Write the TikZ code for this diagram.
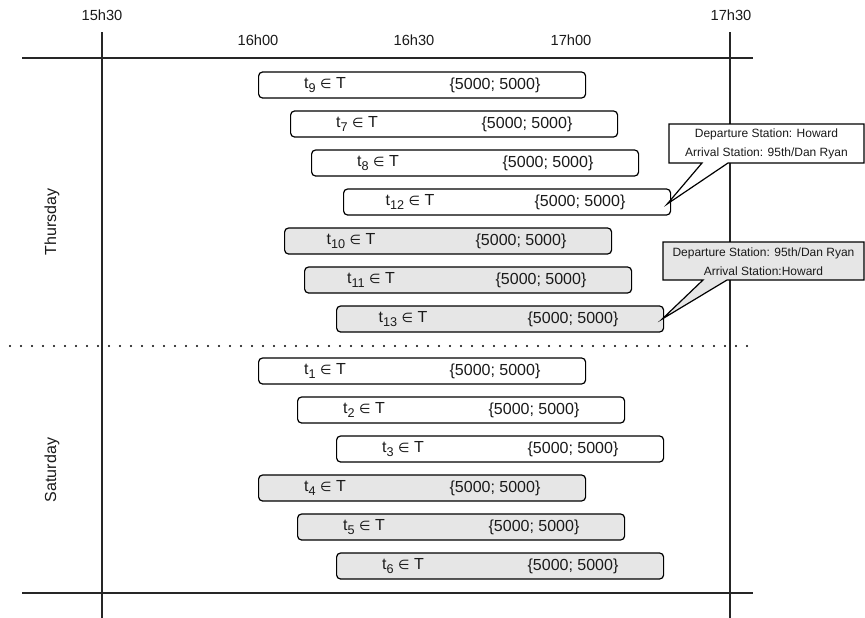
\documentclass[tikz,border=0pt]{standalone}
\usepackage{fontspec}
\setmainfont{Liberation Sans}
\newfontfamily\djv[Scale=0.82]{DejaVu Sans}
\usetikzlibrary{calc}
\definecolor{boxgray}{HTML}{E6E6E6}
\definecolor{txt}{HTML}{1A1A1A}
\newcommand\elemof{{\djv ∈}}
\newcommand\tsub[1]{t\raisebox{-0.55ex}{\fontsize{9.5}{10}\selectfont #1}}
\newcommand\tripbox[5]{%
  \node[tripbox, fill=#5, anchor=west] (#1) at (#2,#3) {};
  \node[triptext] (#1l) at ($(#1.west)+(67,0)$) {\tsub{#4} \elemof{} T};
  \node[triptext] (#1v) at ($(#1.west)+(237,0)$) {\{5000; 5000\}};
}
\begin{document}
\begin{tikzpicture}[x=0.75pt,y=-0.75pt,
  tripbox/.style={draw=black, rounded corners=3pt, line width=0.9pt, minimum width=245.25pt, minimum height=19.5pt, inner sep=0pt},
  triptext/.style={font=\fontsize{12}{14}\selectfont, text=txt, inner sep=0pt},
  timelabel/.style={font=\fontsize{11}{13}\selectfont, text=txt, inner sep=0pt},
  daylabel/.style={font=\fontsize{12}{14}\selectfont, text=txt, inner sep=0pt, rotate=90},
  axisline/.style={line width=0.9pt, draw=black!85},
  callout/.style={draw=black, line width=0.9pt, line join=miter},
  callouttext/.style={font=\fontsize{9}{14.5}\selectfont, text=txt, align=center, inner sep=0pt}]
\useasboundingbox (0,0) rectangle (865,618);

% axes
\draw[axisline] (102,32) -- (102,618);
\draw[axisline] (730,32) -- (730,618);
\draw[axisline] (22,58) -- (753,58);
\draw[axisline] (22,593) -- (753,593);
\draw[line width=1.6pt, dash pattern=on 0pt off 8.25pt, line cap=round] (10,346) -- (755,346);

% time labels
\node[timelabel] (h1530) at (102,15) {15h30};
\node[timelabel] (h1730) at (731,15) {17h30};
\node[timelabel] (h1600) at (258,40) {16h00};
\node[timelabel] (h1630) at (414,40) {16h30};
\node[timelabel] (h1700) at (571,40) {17h00};

% day labels
\node[daylabel] (thu) at (52,222) {Thursday};
\node[daylabel] (sat) at (52,470) {Saturday};

% Thursday
\tripbox{b9}{258}{85}{9}{white}
\tripbox{b7}{290}{124}{7}{white}
\tripbox{b8}{311}{163}{8}{white}
\tripbox{b12}{343}{202}{12}{white}
\tripbox{b10}{284}{241}{10}{boxgray}
\tripbox{b11}{304}{280}{11}{boxgray}
\tripbox{b13}{336}{319}{13}{boxgray}

% Saturday
\tripbox{b1}{258}{371}{1}{white}
\tripbox{b2}{297}{410}{2}{white}
\tripbox{b3}{336}{449}{3}{white}
\tripbox{b4}{258}{488}{4}{boxgray}
\tripbox{b5}{297}{527}{5}{boxgray}
\tripbox{b6}{336}{566}{6}{boxgray}

% callouts
\draw[callout, fill=white] (669,124) -- (864,124) -- (864,163) -- (728,163)
  -- ($(b12.east)+(-4,2)$) -- (702,163) -- (669,163) -- cycle;
\node[callouttext] (c1) at (766.5,144) {Departure Station: Howard\\Arrival Station: 95th/Dan Ryan};

\draw[callout, fill=boxgray] (663,242) -- (864,242) -- (864,280) -- (727,280)
  -- ($(b13.east)+(-2,0)$) -- (703,280) -- (663,280) -- cycle;
\node[callouttext] (c2) at (763.5,262) {Departure Station: 95th/Dan Ryan\\Arrival Station:Howard};
\end{tikzpicture}
\end{document}
